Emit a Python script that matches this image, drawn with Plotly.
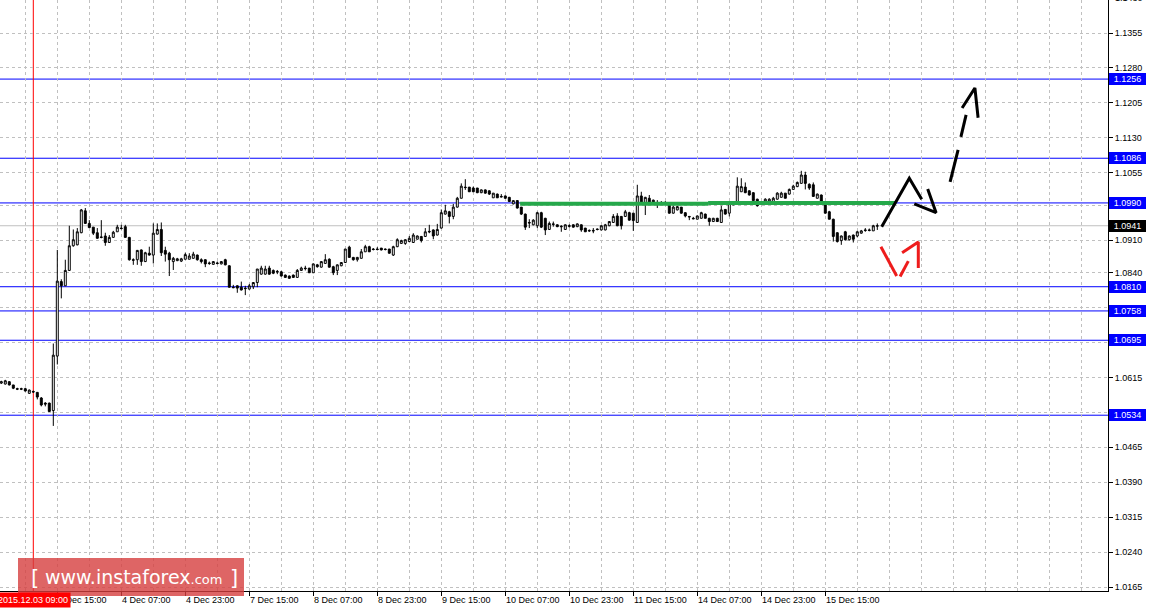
import plotly.graph_objects as go

# ---------------- data (EURUSD H1) ----------------
opens = [
    1.0603, 1.0601, 1.0606, 1.0599, 1.0591, 1.0591, 1.0591, 1.0581, 1.0585, 1.0583,
    1.0571, 1.0560, 1.0560, 1.0544, 1.0661, 1.0821, 1.0812, 1.0845, 1.0898, 1.0900,
    1.0926, 1.0973, 1.0946, 1.0938, 1.0926, 1.0917, 1.0919, 1.0905, 1.0916, 1.0928,
    1.0936, 1.0939, 1.0916, 1.0868, 1.0868, 1.0889, 1.0864, 1.0882, 1.0878, 1.0923,
    1.0933, 1.0888, 1.0882, 1.0864, 1.0866, 1.0865, 1.0869, 1.0869, 1.0871, 1.0878,
    1.0868, 1.0868, 1.0861, 1.0858, 1.0861, 1.0859, 1.0868, 1.0855, 1.0809, 1.0812,
    1.0809, 1.0807, 1.0805, 1.0810, 1.0819, 1.0837, 1.0837, 1.0850, 1.0845, 1.0843,
    1.0842, 1.0835, 1.0833, 1.0835, 1.0830, 1.0845, 1.0850, 1.0850, 1.0840, 1.0857,
    1.0852, 1.0860, 1.0869, 1.0853, 1.0845, 1.0855, 1.0862, 1.0895, 1.0873, 1.0868,
    1.0871, 1.0885, 1.0896, 1.0891, 1.0891, 1.0893, 1.0891, 1.0891, 1.0878, 1.0896,
    1.0903, 1.0903, 1.0907, 1.0905, 1.0912, 1.0918, 1.0918, 1.0929, 1.0932, 1.0921,
    1.0936, 1.0966, 1.0971, 1.0961, 1.0981, 1.1000, 1.1024, 1.1024, 1.1022, 1.1022,
    1.1012, 1.1018, 1.1016, 1.1001, 1.1009, 1.1004, 1.1005, 1.1002, 1.0988, 1.0995,
    1.0981, 1.0966, 1.0948, 1.0943, 1.0941, 1.0969, 1.0957, 1.0933, 1.0945, 1.0943,
    1.0940, 1.0933, 1.0941, 1.0943, 1.0939, 1.0943, 1.0936, 1.0931, 1.0931, 1.0934,
    1.0932, 1.0932, 1.0941, 1.0948, 1.0962, 1.0961, 1.0961, 1.0969, 1.0968, 1.0948,
    1.1005, 1.0988, 1.1000, 1.0996, 1.0991, 1.0991, 1.0990, 1.0986, 1.0968, 1.0975,
    1.0981, 1.0969, 1.0961, 1.0957, 1.0955, 1.0957, 1.0966, 1.0957, 1.0950, 1.0957,
    1.0948, 1.0976, 1.0968, 1.0986, 1.0989, 1.1014, 1.1024, 1.1016, 1.1012, 1.0998,
    1.0991, 1.0991, 1.0993, 1.0993, 1.0998, 1.1002, 1.1011, 1.1009, 1.1019, 1.1025,
    1.1032, 1.1050, 1.1030, 1.1029, 1.1000, 1.1007, 1.0989, 1.0971, 1.0955, 1.0926,
    1.0909, 1.0928, 1.0911, 1.0921, 1.0919, 1.0925, 1.0932, 1.0932, 1.0930, 1.0940,
]
highs = [
    1.0608, 1.0610, 1.0607, 1.0599, 1.0593, 1.0593, 1.0593, 1.0589, 1.0587, 1.0584,
    1.0573, 1.0562, 1.0561, 1.0688, 1.0889, 1.0826, 1.0868, 1.0941, 1.0933, 1.0936,
    1.0977, 1.0979, 1.0953, 1.0938, 1.0936, 1.0953, 1.0926, 1.0921, 1.0930, 1.0943,
    1.0943, 1.0943, 1.0917, 1.0871, 1.0889, 1.0890, 1.0885, 1.0896, 1.0946, 1.0946,
    1.0948, 1.0896, 1.0885, 1.0874, 1.0872, 1.0872, 1.0883, 1.0882, 1.0885, 1.0879,
    1.0871, 1.0869, 1.0864, 1.0865, 1.0864, 1.0865, 1.0870, 1.0856, 1.0814, 1.0813,
    1.0821, 1.0812, 1.0816, 1.0820, 1.0848, 1.0855, 1.0855, 1.0855, 1.0847, 1.0846,
    1.0844, 1.0836, 1.0834, 1.0836, 1.0848, 1.0853, 1.0855, 1.0850, 1.0860, 1.0859,
    1.0865, 1.0880, 1.0871, 1.0855, 1.0858, 1.0863, 1.0891, 1.0898, 1.0874, 1.0874,
    1.0891, 1.0900, 1.0898, 1.0893, 1.0895, 1.0893, 1.0892, 1.0891, 1.0898, 1.0914,
    1.0911, 1.0912, 1.0919, 1.0925, 1.0920, 1.0919, 1.0936, 1.0943, 1.0933, 1.0945,
    1.0976, 1.0986, 1.0973, 1.0988, 1.1003, 1.1032, 1.1041, 1.1024, 1.1025, 1.1022,
    1.1019, 1.1019, 1.1017, 1.1011, 1.1010, 1.1009, 1.1006, 1.1003, 1.0995, 1.0996,
    1.0981, 1.0967, 1.0955, 1.0955, 1.0971, 1.0971, 1.0958, 1.0950, 1.0950, 1.0944,
    1.0942, 1.0944, 1.0944, 1.0944, 1.0946, 1.0944, 1.0936, 1.0933, 1.0936, 1.0935,
    1.0942, 1.0945, 1.0951, 1.0966, 1.0968, 1.0962, 1.0975, 1.0971, 1.0968, 1.1029,
    1.1014, 1.1003, 1.1007, 1.0997, 1.0996, 1.0994, 1.0994, 1.0987, 1.0984, 1.0984,
    1.0981, 1.0970, 1.0962, 1.0960, 1.0963, 1.0971, 1.0967, 1.0958, 1.0958, 1.0958,
    1.0984, 1.0977, 1.0990, 1.0994, 1.1045, 1.1043, 1.1034, 1.1017, 1.1013, 1.0999,
    1.0994, 1.1000, 1.1000, 1.1003, 1.1013, 1.1014, 1.1011, 1.1021, 1.1029, 1.1036,
    1.1059, 1.1057, 1.1032, 1.1034, 1.1010, 1.1008, 1.0992, 1.0973, 1.0956, 1.0927,
    1.0920, 1.0930, 1.0920, 1.0922, 1.0930, 1.0932, 1.0936, 1.0935, 1.0943, 1.0946,
]
lows = [
    1.0601, 1.0600, 1.0598, 1.0590, 1.0588, 1.0588, 1.0585, 1.0580, 1.0582, 1.0568,
    1.0553, 1.0553, 1.0541, 1.0511, 1.0643, 1.0785, 1.0812, 1.0844, 1.0896, 1.0899,
    1.0925, 1.0945, 1.0936, 1.0921, 1.0913, 1.0914, 1.0898, 1.0904, 1.0916, 1.0928,
    1.0933, 1.0916, 1.0866, 1.0857, 1.0857, 1.0855, 1.0863, 1.0877, 1.0860, 1.0922,
    1.0876, 1.0864, 1.0833, 1.0846, 1.0865, 1.0863, 1.0869, 1.0869, 1.0871, 1.0866,
    1.0860, 1.0852, 1.0857, 1.0858, 1.0858, 1.0858, 1.0856, 1.0808, 1.0807, 1.0797,
    1.0802, 1.0792, 1.0804, 1.0805, 1.0809, 1.0836, 1.0836, 1.0836, 1.0837, 1.0837,
    1.0832, 1.0829, 1.0827, 1.0829, 1.0829, 1.0844, 1.0845, 1.0840, 1.0840, 1.0851,
    1.0851, 1.0860, 1.0851, 1.0835, 1.0835, 1.0854, 1.0861, 1.0873, 1.0866, 1.0864,
    1.0871, 1.0885, 1.0885, 1.0888, 1.0888, 1.0888, 1.0888, 1.0881, 1.0876, 1.0895,
    1.0903, 1.0900, 1.0906, 1.0904, 1.0912, 1.0905, 1.0917, 1.0925, 1.0912, 1.0920,
    1.0935, 1.0965, 1.0946, 1.0955, 1.0980, 1.1000, 1.1018, 1.1014, 1.1014, 1.1011,
    1.1011, 1.1010, 1.1007, 1.1001, 1.1001, 1.1002, 1.0999, 1.0992, 1.0987, 1.0978,
    1.0964, 1.0932, 1.0936, 1.0942, 1.0936, 1.0936, 1.0921, 1.0933, 1.0939, 1.0938,
    1.0928, 1.0933, 1.0937, 1.0937, 1.0938, 1.0928, 1.0928, 1.0928, 1.0925, 1.0931,
    1.0931, 1.0931, 1.0940, 1.0947, 1.0940, 1.0933, 1.0960, 1.0952, 1.0930, 1.0947,
    1.0988, 1.0964, 1.0990, 1.0988, 1.0979, 1.0988, 1.0986, 1.0967, 1.0967, 1.0974,
    1.0967, 1.0959, 1.0953, 1.0955, 1.0955, 1.0957, 1.0957, 1.0941, 1.0949, 1.0949,
    1.0947, 1.0965, 1.0961, 1.0985, 1.0989, 1.1014, 1.1011, 1.1006, 1.0994, 1.0982,
    1.0988, 1.0990, 1.0992, 1.0992, 1.0997, 1.1002, 1.1000, 1.1008, 1.1019, 1.1024,
    1.1032, 1.1019, 1.1018, 1.1003, 1.1000, 1.0992, 1.0967, 1.0955, 1.0907, 1.0905,
    1.0900, 1.0909, 1.0909, 1.0905, 1.0916, 1.0924, 1.0928, 1.0929, 1.0930, 1.0932,
]
closes = [
    1.0606, 1.0608, 1.0599, 1.0592, 1.0590, 1.0590, 1.0586, 1.0588, 1.0584, 1.0573,
    1.0556, 1.0558, 1.0542, 1.0663, 1.0822, 1.0812, 1.0845, 1.0898, 1.0911, 1.0928,
    1.0975, 1.0946, 1.0937, 1.0925, 1.0914, 1.0916, 1.0905, 1.0916, 1.0927, 1.0938,
    1.0935, 1.0916, 1.0868, 1.0867, 1.0888, 1.0864, 1.0883, 1.0878, 1.0925, 1.0933,
    1.0883, 1.0880, 1.0868, 1.0871, 1.0870, 1.0870, 1.0879, 1.0876, 1.0880, 1.0868,
    1.0864, 1.0859, 1.0860, 1.0864, 1.0860, 1.0864, 1.0857, 1.0809, 1.0808, 1.0807,
    1.0803, 1.0806, 1.0812, 1.0819, 1.0848, 1.0850, 1.0848, 1.0837, 1.0839, 1.0842,
    1.0833, 1.0830, 1.0828, 1.0830, 1.0845, 1.0850, 1.0849, 1.0840, 1.0859, 1.0853,
    1.0864, 1.0868, 1.0852, 1.0840, 1.0857, 1.0862, 1.0891, 1.0873, 1.0868, 1.0873,
    1.0885, 1.0896, 1.0885, 1.0890, 1.0890, 1.0889, 1.0890, 1.0882, 1.0896, 1.0911,
    1.0909, 1.0911, 1.0914, 1.0921, 1.0919, 1.0909, 1.0928, 1.0928, 1.0919, 1.0933,
    1.0969, 1.0973, 1.0961, 1.0981, 1.1000, 1.1026, 1.1023, 1.1014, 1.1014, 1.1012,
    1.1018, 1.1011, 1.1009, 1.1011, 1.1001, 1.1003, 1.1000, 1.0993, 1.0995, 1.0979,
    1.0966, 1.0938, 1.0947, 1.0953, 1.0969, 1.0938, 1.0932, 1.0946, 1.0944, 1.0939,
    1.0939, 1.0943, 1.0940, 1.0938, 1.0945, 1.0932, 1.0928, 1.0930, 1.0930, 1.0933,
    1.0941, 1.0943, 1.0950, 1.0961, 1.0941, 1.0941, 1.0971, 1.0953, 1.0952, 1.1005,
    1.0989, 1.1002, 1.0991, 1.0989, 1.0990, 1.0990, 1.0989, 1.0968, 1.0981, 1.0982,
    1.0968, 1.0962, 1.0960, 1.0956, 1.0962, 1.0969, 1.0957, 1.0950, 1.0957, 1.0950,
    1.0975, 1.0966, 1.0989, 1.0993, 1.1026, 1.1025, 1.1012, 1.1007, 1.0995, 1.0984,
    1.0990, 1.0998, 1.0998, 1.1000, 1.1011, 1.1011, 1.1000, 1.1019, 1.1026, 1.1034,
    1.1050, 1.1032, 1.1022, 1.1004, 1.1009, 1.0993, 1.0968, 1.0955, 1.0918, 1.0907,
    1.0919, 1.0911, 1.0919, 1.0912, 1.0928, 1.0930, 1.0931, 1.0931, 1.0941, 1.0941,
]
# bars are counted in hours from the marked bar "2015.12.03 09:00" (bar 0)
first_bar = -8

time_tick_bars = [6, 22, 38, 54, 70, 86, 102, 118, 134, 150, 166, 182, 198]
time_tick_labels = ["3 Dec 15:00", "4 Dec 07:00", "4 Dec 23:00", "7 Dec 15:00",
                    "8 Dec 07:00", "8 Dec 23:00", "9 Dec 15:00", "10 Dec 07:00",
                    "10 Dec 23:00", "11 Dec 15:00", "14 Dec 07:00", "14 Dec 23:00",
                    "15 Dec 15:00"]
grid_step_bars = 8

price_ticks = [1.0165, 1.0240, 1.0315, 1.0390, 1.0465, 1.0540, 1.0615, 1.0690,
               1.0765, 1.0840, 1.0910, 1.0985, 1.1055, 1.1130, 1.1205, 1.1280,
               1.1355]
top_cut_tick = 1.1430

levels_blue = [1.1256, 1.1086, 1.0990, 1.0810, 1.0758, 1.0695, 1.0534]
last_price = 1.0941
marker_bar = 0
marker_label = "2015.12.03 09:00"

# hand-drawn forecast marks (bar, price)
green_x1 = [121.7, 168.7]; green_y1 = [1.0988, 1.0988]
green_x2 = [168.7, 215.7]; green_y2 = [1.0990, 1.0990]
black_path_x = [212.1, 219.0, 222.1]; black_path_y = [1.0939, 1.1043, 1.0998]
black_head_x = [223.6, 225.7, 220.25]; black_head_y = [1.1020, 1.0969, 1.0988]
dash_segs = [([229.2, 231.2], [1.1035, 1.1104]),
             ([231.9, 233.2], [1.1132, 1.1179])]
dash_head_x = [232.2, 235.4, 236.2]; dash_head_y = [1.1194, 1.1237, 1.1173]
red_segs = [([211.9, 215.85], [1.0896, 1.0833]),
            ([216.7, 218.75], [1.0832, 1.0865]),
            ([217.2, 221.25, 221.25], [1.0883, 1.0906, 1.0850])]

# ---------------- layout constants ----------------
W, H = 1149, 609
ML, MR, MT, MB = 0, 41, 0, 18
PW, PH = W - ML - MR, H - MT - MB
X_RANGE = [-8.325, 268.675]
Y_RANGE = [1.01564, 1.14259]
FONT = "Liberation Sans"
GRID = "#C0C0C0"
BLUE = "#0000FF"


def px(x):
    return (x - ML) / PW


def py(y):
    return 1 - (y - MT) / PH


bars = [first_bar + k for k in range(len(opens))]
grid_bars = list(range(time_tick_bars[0] - grid_step_bars,
                       int(X_RANGE[1]) + 1, grid_step_bars))

fig = go.Figure()
fig.add_trace(go.Candlestick(
    x=bars, open=opens, high=highs, low=lows, close=closes,
    increasing=dict(line=dict(color="black", width=1), fillcolor="white"),
    decreasing=dict(line=dict(color="black", width=1), fillcolor="black"),
    whiskerwidth=0, hoverinfo="skip", showlegend=False))

# forecast drawings
fig.add_trace(go.Scatter(x=green_x1, y=green_y1, mode="lines",
                         line=dict(color="#25A84A", width=4), hoverinfo="skip", showlegend=False))
fig.add_trace(go.Scatter(x=green_x2, y=green_y2, mode="lines",
                         line=dict(color="#25A84A", width=4), hoverinfo="skip", showlegend=False))
for xs, ys in [(black_path_x, black_path_y), (black_head_x, black_head_y),
               (dash_head_x, dash_head_y)] + dash_segs:
    fig.add_trace(go.Scatter(x=xs, y=ys, mode="lines",
                             line=dict(color="black", width=3), hoverinfo="skip", showlegend=False))
for xs, ys in red_segs:
    fig.add_trace(go.Scatter(x=xs, y=ys, mode="lines",
                             line=dict(color="#EE1C1C", width=3), hoverinfo="skip", showlegend=False))

shapes = []
for lv in levels_blue:
    shapes.append(dict(type="line", xref="paper", yref="y", x0=0, x1=1, y0=lv, y1=lv,
                       line=dict(color=BLUE, width=1), layer="below"))
shapes.append(dict(type="line", xref="paper", yref="y", x0=0, x1=1, y0=last_price, y1=last_price,
                   line=dict(color=GRID, width=1), layer="below"))
shapes.append(dict(type="line", xref="x", yref="paper", x0=marker_bar, x1=marker_bar, y0=0, y1=1,
                   line=dict(color="#FF0000", width=1), layer="below"))
# watermark box
shapes.append(dict(type="rect", xref="paper", yref="paper", x0=px(18), x1=px(244),
                   y0=py(596), y1=py(558), fillcolor="rgba(214,62,62,0.80)",
                   line=dict(width=0), layer="above"))

annotations = []
for lv in levels_blue:
    annotations.append(dict(xref="paper", yref="y", x=1, y=lv, xanchor="left", yanchor="middle",
                            xshift=1, text=f"{lv:.4f}", showarrow=False, bgcolor=BLUE,
                            font=dict(family=FONT, size=9, color="white"),
                            width=35, height=10, borderpad=1, borderwidth=0))
annotations.append(dict(xref="paper", yref="y", x=1, y=last_price, xanchor="left", yanchor="middle",
                        xshift=1, text=f"{last_price:.4f}", showarrow=False, bgcolor="black",
                        font=dict(family=FONT, size=9, color="white"),
                        width=35, height=10, borderpad=1, borderwidth=0))
annotations.append(dict(xref="paper", yref="paper", x=1,
                        y=(top_cut_tick - Y_RANGE[0]) / (Y_RANGE[1] - Y_RANGE[0]),
                        xanchor="left", yanchor="middle", xshift=5, text=f"{top_cut_tick:.4f}",
                        showarrow=False, font=dict(family=FONT, size=9, color="black")))
for b, lab in zip(time_tick_bars, time_tick_labels):
    annotations.append(dict(xref="x", yref="paper", x=b, y=0, xanchor="left", yanchor="top",
                            xshift=-1, yshift=-2, text=lab, showarrow=False,
                            font=dict(family=FONT, size=9, color="black")))
annotations.append(dict(xref="x", yref="paper", x=marker_bar, y=0, xanchor="center", yanchor="top",
                        yshift=-1, text=marker_label, showarrow=False, bgcolor="#FF0000",
                        borderpad=2, font=dict(family=FONT, size=9, color="white")))
# watermark text
wm_font = dict(family="DejaVu Sans", color="white")
annotations.append(dict(xref="paper", yref="paper", x=px(29), y=py(578), xanchor="left",
                        yanchor="middle", text="[", showarrow=False,
                        font=dict(wm_font, size=21)))
annotations.append(dict(xref="paper", yref="paper", x=px(228), y=py(578), xanchor="left",
                        yanchor="middle", text="]", showarrow=False,
                        font=dict(wm_font, size=21)))
annotations.append(dict(xref="paper", yref="paper", x=px(43), y=py(577), xanchor="left",
                        yanchor="middle",
                        text="www.instaforex<span style='font-size:13px'>.com</span>",
                        showarrow=False, font=dict(wm_font, size=19)))

fig.update_layout(
    width=W, height=H, autosize=False,
    margin=dict(l=ML, r=MR, t=MT, b=MB, pad=0),
    paper_bgcolor="white", plot_bgcolor="white",
    showlegend=False, shapes=shapes, annotations=annotations,
    font=dict(family=FONT, size=9, color="black"),
    xaxis=dict(range=X_RANGE, rangeslider=dict(visible=False), showline=True,
               linecolor="black", linewidth=1, zeroline=False,
               tickmode="array", tickvals=time_tick_bars, showticklabels=False,
               ticks="outside", ticklen=4, tickcolor="black",
               showgrid=True, gridcolor=GRID, griddash="3px,3px", gridwidth=1,
               minor=dict(tickmode="array", tickvals=grid_bars, showgrid=True,
                          gridcolor=GRID, griddash="3px,3px", ticks="")),
    yaxis=dict(range=Y_RANGE, side="right", showline=True, linecolor="black", linewidth=1,
               zeroline=False, tickmode="array", tickvals=price_ticks,
               ticktext=[f"{v:.4f}" for v in price_ticks],
               ticks="outside", ticklen=4, tickcolor="black",
               tickfont=dict(family=FONT, size=9, color="black"),
               showgrid=True, gridcolor=GRID, griddash="3px,3px", gridwidth=1),
)

fig.write_html("out.html", config={"displayModeBar": False},
               post_script="document.body.style.margin='0px';document.body.style.overflow='hidden';")
